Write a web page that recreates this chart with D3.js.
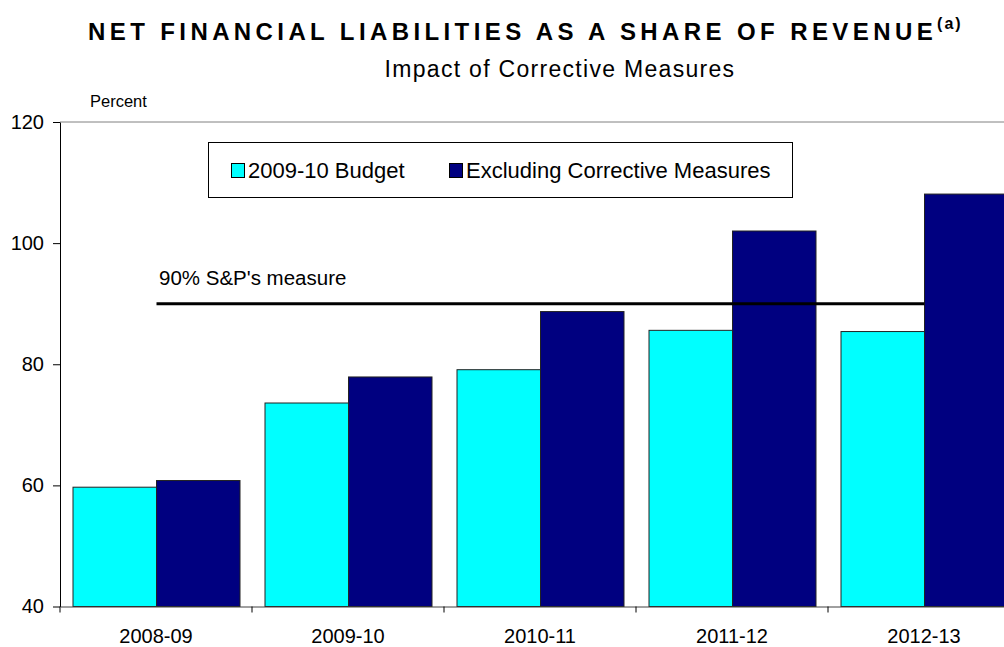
<!DOCTYPE html>
<html>
<head>
<meta charset="utf-8">
<script src="https://cdn.jsdelivr.net/npm/d3@7"></script>
<style>
  html, body { margin: 0; padding: 0; background: #fff; }
  svg { display: block; font-family: "Liberation Sans", Arial, sans-serif; }
</style>
</head>
<body>
<svg id="chart" width="1004" height="647"></svg>
<script>
// Net financial liabilities as a share of revenue, per year
const categories = ["2008-09", "2009-10", "2010-11", "2011-12", "2012-13"];
const seriesNames = ["2009-10 Budget", "Excluding Corrective Measures"];
const budget = [59.7, 73.6, 79.1, 85.6, 85.4];
const excluding = [60.8, 77.9, 88.7, 102.0, 108.1];
const yTicks = [40, 60, 80, 100, 120];
const benchmark = 90;
const benchmarkLabel = "90% S&P's measure";
const colors = ["#00ffff", "#000080"];

const svg = d3.select("#chart");

const plotLeft = 60, plotRight = 1020, plotTop = 122, plotBottom = 606.5;

const x0 = d3.scaleBand().domain(categories).range([plotLeft, plotRight]);
const x1 = d3.scaleBand().domain(seriesNames).range([13, 180]);
const y = d3.scaleLinear().domain([40, 120]).range([plotBottom, plotTop]);

const rows = categories.map((c, i) => ({ cat: c, vals: [budget[i], excluding[i]] }));

// Titles
const title = svg.append("text")
  .attr("x", 88).attr("y", 40)
  .attr("font-size", 24).attr("font-weight", "bold")
  .attr("letter-spacing", 4.4)
  .attr("fill", "#000");
title.append("tspan").text("NET FINANCIAL LIABILITIES AS A SHARE OF REVENUE");
title.append("tspan").attr("dy", -11).attr("font-size", 16).attr("letter-spacing", 2).text("(a)");

svg.append("text")
  .attr("x", 560).attr("y", 77)
  .attr("text-anchor", "middle")
  .attr("font-size", 23).attr("letter-spacing", 1.3)
  .text("Impact of Corrective Measures");

svg.append("text")
  .attr("x", 90).attr("y", 107)
  .attr("font-size", 16.5)
  .text("Percent");

// Plot frame top line
svg.append("line")
  .attr("x1", plotLeft).attr("x2", 1004)
  .attr("y1", plotTop).attr("y2", plotTop)
  .attr("stroke", "#808080").attr("stroke-width", 1);

// Bars
const groups = svg.append("g").selectAll("g")
  .data(rows).join("g")
  .attr("transform", d => `translate(${x0(d.cat)},0)`);

groups.selectAll("rect")
  .data(d => d.vals.map((v, j) => ({ key: seriesNames[j], v, j })))
  .join("rect")
  .attr("x", d => x1(d.key))
  .attr("width", x1.bandwidth())
  .attr("y", d => y(d.v))
  .attr("height", d => y(40) - y(d.v))
  .attr("fill", d => colors[d.j])
  .attr("stroke", "#222")
  .attr("stroke-width", 1);

// Benchmark line between the first and last group centres
const groupMid = c => x0(c) + x1(seriesNames[1]);
svg.append("line")
  .attr("x1", groupMid(categories[0])).attr("x2", groupMid(categories[categories.length - 1]))
  .attr("y1", y(benchmark)).attr("y2", y(benchmark))
  .attr("stroke", "#000").attr("stroke-width", 3);

svg.append("text")
  .attr("x", 159).attr("y", 285)
  .attr("font-size", 20.5)
  .text(benchmarkLabel);

// Y axis
const yAxis = svg.append("g")
  .attr("transform", `translate(${plotLeft},0)`)
  .call(d3.axisLeft(y).tickValues(yTicks).tickSize(7).tickPadding(9).tickSizeOuter(0));
yAxis.select(".domain").attr("stroke", "#000");
yAxis.selectAll(".tick line").attr("stroke", "#000");
yAxis.selectAll(".tick text")
  .attr("font-family", "Liberation Sans, Arial, sans-serif")
  .attr("font-size", 20).attr("fill", "#000");

// X axis
const xAxis = svg.append("g")
  .attr("transform", `translate(0,${plotBottom})`)
  .call(d3.axisBottom(x0).tickSize(0).tickPadding(22).tickSizeOuter(0));
xAxis.select(".domain").attr("stroke", "#404040");
xAxis.selectAll(".tick text")
  .attr("font-family", "Liberation Sans, Arial, sans-serif")
  .attr("font-size", 20).attr("fill", "#000");

// Category boundary ticks
svg.append("g").selectAll("line")
  .data(categories)
  .join("line")
  .attr("x1", d => x0(d)).attr("x2", d => x0(d))
  .attr("y1", plotBottom).attr("y2", plotBottom + 6)
  .attr("stroke", "#000");

// Legend
const lg = svg.append("g");
lg.append("rect")
  .attr("x", 208.5).attr("y", 142.5)
  .attr("width", 584).attr("height", 55)
  .attr("fill", "#fff").attr("stroke", "#000").attr("stroke-width", 1);
const legendX = [231, 449];
seriesNames.forEach((name, j) => {
  lg.append("rect")
    .attr("x", legendX[j] + 0.5).attr("y", 163.5)
    .attr("width", 13).attr("height", 14)
    .attr("fill", colors[j]).attr("stroke", "#000").attr("stroke-width", 1);
  lg.append("text")
    .attr("x", legendX[j] + 17).attr("y", 178)
    .attr("font-size", 22)
    .text(name);
});
</script>
</body>
</html>
